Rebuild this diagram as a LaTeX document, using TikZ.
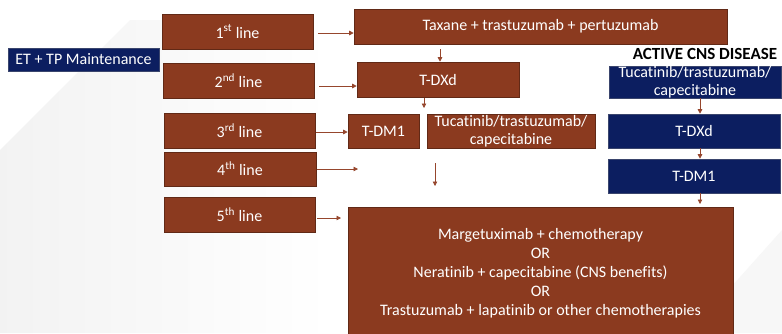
\documentclass[tikz,border=0pt]{standalone}
\usepackage{fontspec}
\setmainfont{Carlito}[Ligatures=NoCommon]
\usetikzlibrary{arrows.meta}
\definecolor{brownbox}{RGB}{139,58,31}
\definecolor{navybox}{RGB}{12,30,96}
\definecolor{arrowc}{RGB}{150,70,45}
\tikzset{
  bbox/.style={draw=brownbox!70!black, line width=0.6pt, fill=brownbox, text=white, inner sep=0pt, align=center, font=\fontsize{16}{19}\selectfont},
  nbox/.style={draw=navybox!60!gray, line width=0.6pt, fill=navybox, text=white, inner sep=0pt, align=center, font=\fontsize{16}{19}\selectfont},
  arr/.style={draw=arrowc, line width=0.8pt, -{Triangle[length=4.5pt,width=4.5pt]}},
}
\begin{document}
\begin{tikzpicture}[x=1pt,y=-1pt]
\useasboundingbox (0,0) rectangle (782,333);
\fill[white] (0,0) rectangle (782,333);
\shade[left color=gray!10, right color=white] (0,150) -- (130,20) -- (330,20) -- (330,333) -- (0,333) -- cycle;
\fill[gray!6] (690,333) -- (782,230) -- (782,333) -- cycle;
% left column
\node[nbox, minimum width=151pt, minimum height=23pt] (et) at (83.5,59.5) {ET + TP Maintenance};
\node[bbox, minimum width=151pt, minimum height=35pt] (l1) at (237.5,31.5) {1\textsuperscript{st} line};
\node[bbox, minimum width=151pt, minimum height=35pt] (l2) at (238.5,80.5) {2\textsuperscript{nd} line};
\node[bbox, minimum width=151pt, minimum height=35pt] (l3) at (239.5,130.5) {3\textsuperscript{rd} line};
\node[bbox, minimum width=152pt, minimum height=34pt] (l4) at (240,169) {4\textsuperscript{th} line};
\node[bbox, minimum width=151pt, minimum height=35pt] (l5) at (239.5,214.5) {5\textsuperscript{th} line};
% middle
\node[bbox, minimum width=373pt, minimum height=35pt] (tax) at (540.5,26.5) {Taxane + trastuzumab + pertuzumab};
\node[bbox, minimum width=162pt, minimum height=35pt] (tdxd) at (438,79.5) {T-DXd};
\node[bbox, minimum width=71pt, minimum height=34pt] (tdm) at (383.5,131) {T-DM1};
\node[bbox, minimum width=168pt, minimum height=34pt, font=\fontsize{16}{18.5}\selectfont] (tuc) at (511,131) {Tucatinib/trastuzumab/\\capecitabine};
\node[bbox, minimum width=385pt, minimum height=133pt] (big) at (540.5,273.5) {Margetuximab + chemotherapy\\OR\\Neratinib + capecitabine (CNS benefits)\\OR\\Trastuzumab + lapatinib or other chemotherapies};
% right column
\node[font=\bfseries\fontsize{17}{19}\selectfont, inner sep=0pt] (cns) at (705,54) {ACTIVE CNS DISEASE};
\node[nbox, minimum width=172pt, minimum height=30pt, font=\fontsize{16}{18}\selectfont] (ntuc) at (695,82.5) {Tucatinib/trastuzumab/\\capecitabine};
\node[nbox, minimum width=172pt, minimum height=34pt] (ntdxd) at (694,131) {T-DXd};
\node[nbox, minimum width=172pt, minimum height=34pt] (ntdm) at (694,176) {T-DM1};
% connectors
\coordinate (s1) at (318,33);
\draw[arr] (s1) -- (s1 -| tax.west);
\coordinate (s2) at (319,86);
\draw[arr] (s2) -- (s2 -| tdxd.west);
\coordinate (s3) at (316,132);
\draw[arr] (s3) -- (s3 -| tdm.west);
\coordinate (s4) at (317,169);
\coordinate (e4) at (358,169);
\draw[arr] (s4) -- (e4);
\coordinate (s5) at (317,218);
\coordinate (e5) at (341,218);
\draw[arr] (s5) -- (e5);
\coordinate (t1) at (440,49);
\draw[arr] (t1) -- (t1 |- tdxd.north);
\coordinate (t2) at (424,98);
\coordinate (t2e) at (424,108);
\draw[arr] (t2) -- (t2e);
\coordinate (fa) at (435,163);
\coordinate (fb) at (435,186);
\draw[arr] (fa) -- (fb);
\coordinate (n1) at (700,98);
\draw[arr] (n1) -- (n1 |- ntdxd.north);
\coordinate (n2) at (700,148);
\draw[arr] (n2) -- (n2 |- ntdm.north);
\coordinate (n3) at (700,193);
\coordinate (n3e) at (700,204);
\draw[arr] (n3) -- (n3e);
\end{tikzpicture}
\end{document}
